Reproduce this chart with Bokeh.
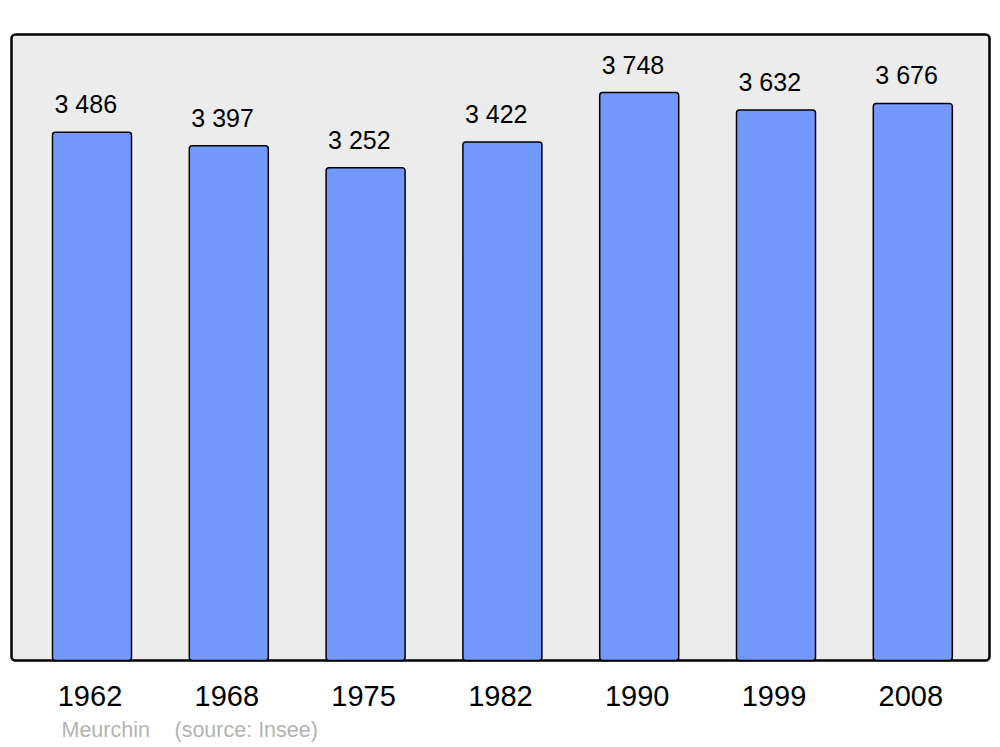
from bokeh.plotting import figure
from bokeh.models import Range1d
from bokeh.core.properties import value
from bokeh.embed import file_html
from bokeh.resources import INLINE

years = ["1962", "1968", "1975", "1982", "1990", "1999", "2008"]
population = [3486, 3397, 3252, 3422, 3748, 3632, 3676]
labels = ["3 486", "3 397", "3 252", "3 422", "3 748", "3 632", "3 676"]
commune = "Meurchin"
source = "(source: Insee)"

W, H = 1000, 747
STEP = 136.8          # px per category
X0 = 91.5             # px of first bar centre
BASE = 660            # px from top of baseline
PX = 568 / 3748       # px per inhabitant

def dx(px):
    return (px - X0) / STEP

def dy(px_from_top):
    return (BASE - px_from_top) / PX

xs = list(range(len(years)))
bar_w = 79 / STEP

p = figure(width=W, height=H, output_backend="svg", toolbar_location=None,
           x_range=Range1d(dx(0), dx(W)), y_range=Range1d(dy(H), dy(0)),
           min_border=0, outline_line_color=None)
p.axis.visible = False
p.grid.visible = False
p.background_fill_color = "white"
p.border_fill_color = "white"

font = value("Liberation Sans")

# panel
p.quad(left=[dx(11)], right=[dx(989)], bottom=[dy(660)], top=[dy(34)],
       fill_color="#ececec", line_color="black", line_width=2.5, border_radius=4)

# bars
p.vbar(x=xs, top=population, bottom=0, width=bar_w, fill_color="#7399ff",
       line_color="black", line_width=1.5, border_radius=3)

# value labels
p.text(x=[x - bar_w / 2 for x in xs], y=population, text=labels, x_offset=2, y_offset=-28,
       text_font=font, text_font_size="25px", text_align="left",
       text_baseline="alphabetic", text_color="black")

# year labels
p.text(x=xs, y=[0] * len(xs), text=years, x_offset=-2, y_offset=35,
       text_font=font, text_font_size="29px", text_align="center",
       text_baseline="alphabetic", text_color="black")

# source
p.text(x=[dx(61), dx(174)], y=[dy(729), dy(729)], text=[commune, source],
       text_font=font, text_font_size="21.5px", text_align="left",
       text_baseline="alphabetic", text_color="#b3b3b3")

open("out.html", "w").write(file_html(p, INLINE))
